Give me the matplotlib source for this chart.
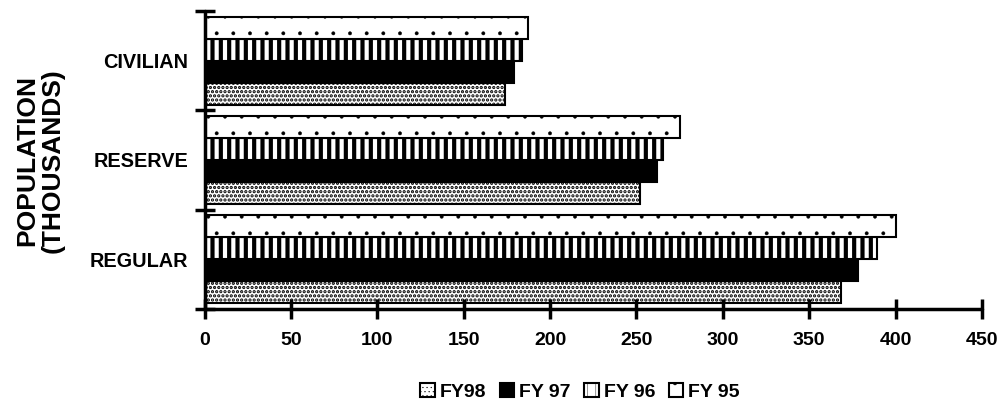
import numpy as np
import matplotlib
matplotlib.use('Agg')
import matplotlib.pyplot as plt

plt.rcParams['font.family'] = ['Liberation Sans', 'DejaVu Sans']
plt.rcParams['font.weight'] = 'bold'

# datos (miles)
categorias = ['REGULAR', 'RESERVE', 'CIVILIAN']
series = ['FY98', 'FY 97', 'FY 96', 'FY 95']
fy98 = [368.5, 252, 174]
fy97 = [378, 262, 179]
fy96 = [389.5, 265.5, 184]
fy95 = [400, 275, 187]
valores = [fy98, fy97, fy96, fy95]
ticks_x = [0, 50, 100, 150, 200, 250, 300, 350, 400, 450]

# estilo de cada serie: (relleno, trama, grosor de trama)
estilos = [
    ('white', '....', 1.6),
    ('black', None, 1.0),
    ('white', '||', 3.0),
    ('white', '.', 0.3),
]

fig = plt.figure(figsize=(10.03, 4.08), dpi=100)
ax = fig.add_axes([0.204, 0.243, 0.775, 0.730])

y = np.arange(len(categorias))
h = 0.222
for i, (nombre, vals, (fc, hatch, hlw)) in enumerate(zip(series, valores, estilos)):
    plt.rcParams['hatch.linewidth'] = hlw
    barras = ax.barh(y + (i - 1.5) * h, vals, height=h, color=fc, edgecolor='black',
                     linewidth=1.5, hatch=hatch, label=nombre)
    for b in barras:
        try:
            b.set_hatch_linewidth(hlw)
        except AttributeError:
            pass

ax.set_xlim(0, 450)
ax.set_ylim(-0.5, 2.5)
ax.set_xticks(ticks_x)
ax.set_xticklabels([str(t) for t in ticks_x], fontsize=14, fontweight='bold')
ax.set_yticks(y)
ax.set_yticklabels(categorias, fontsize=14.3, fontweight='bold')
ax.set_yticks([-0.5, 0.5, 1.5, 2.5], minor=True)

ax.tick_params(axis='y', which='major', length=0, pad=12)
ax.tick_params(axis='y', which='minor', direction='inout', length=14, width=2.5)
ax.tick_params(axis='x', direction='inout', length=15, width=2.5, pad=9)

for lado in ['top', 'right']:
    ax.spines[lado].set_visible(False)
for lado in ['left', 'bottom']:
    ax.spines[lado].set_linewidth(2.5)
    ax.spines[lado].set_capstyle('round')

fig.text(40 / 1003, 1 - 161 / 408, 'POPULATION\n(THOUSANDS)', rotation=90,
         ha='center', va='center', multialignment='center',
         fontsize=19, fontweight='bold', linespacing=1.05)

fig.legend(loc='center', bbox_to_anchor=(580 / 1003, 1 - 392 / 408), ncol=4,
           frameon=False, fontsize=14, handlelength=0.75, handleheight=0.75,
           handletextpad=0.25, columnspacing=0.7)

fig.savefig('out.png', dpi=100)
